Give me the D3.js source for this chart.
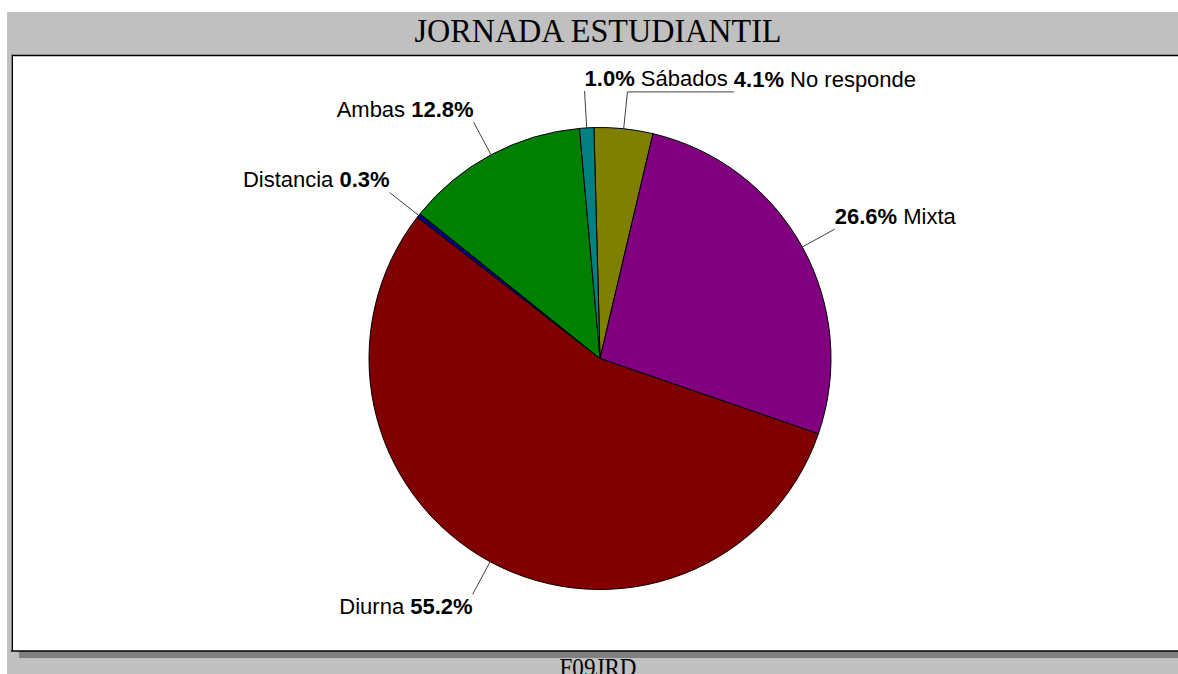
<!DOCTYPE html>
<html>
<head>
<meta charset="utf-8">
<script src="https://cdn.jsdelivr.net/npm/d3@7"></script>
<style>
  html, body { margin: 0; padding: 0; background: #ffffff; }
  svg { display: block; }
</style>
</head>
<body>
<svg id="chart" width="1178" height="674"></svg>
<script>
// ---- data ----
const title = "JORNADA ESTUDIANTIL";
const footer = "F09JRD";
const categories = ["No responde", "Mixta", "Diurna", "Distancia", "Ambas", "Sábados"];
const values = [4.1, 26.6, 55.2, 0.3, 12.8, 1.0];
const colors = ["#808000", "#800080", "#800000", "#000080", "#008000", "#008080"];

// ---- layout ----
const W = 1178, H = 674;
const cx = 600, cy = 358.5, R = 231;
const startDeg = -1.5;
const leaderLen = 37;

const svg = d3.select("#chart");

// background frame
svg.append("rect").attr("x", 7).attr("y", 12).attr("width", W - 7).attr("height", H - 12).attr("fill", "#c0c0c0");
// shadow
svg.append("rect").attr("x", 19).attr("y", 651).attr("width", W - 19).attr("height", 7).attr("fill", "#808080");
// plot box
svg.append("rect").attr("x", 11).attr("y", 55).attr("width", W).attr("height", 596).attr("fill", "#ffffff");
svg.append("line").attr("x1", 11).attr("x2", W).attr("y1", 55.5).attr("y2", 55.5).attr("stroke", "#000").attr("stroke-width", 1.5);
svg.append("line").attr("x1", 11.5).attr("x2", 11.5).attr("y1", 55).attr("y2", 651).attr("stroke", "#808080").attr("stroke-width", 1);
svg.append("line").attr("x1", 12.5).attr("x2", 12.5).attr("y1", 55).attr("y2", 651).attr("stroke", "#000").attr("stroke-width", 1);
svg.append("line").attr("x1", 11).attr("x2", W).attr("y1", 651).attr("y2", 651).attr("stroke", "#000").attr("stroke-width", 1.5);

// title and footer
svg.append("text").attr("x", 598).attr("y", 42).attr("text-anchor", "middle")
  .attr("font-family", "'Liberation Serif', 'Times New Roman', serif").attr("font-size", 33)
  .attr("textLength", 367).attr("lengthAdjust", "spacingAndGlyphs")
  .attr("fill", "#000").text(title);
svg.append("text").attr("x", 598).attr("y", 676).attr("text-anchor", "middle")
  .attr("font-family", "'Liberation Serif', 'Times New Roman', serif").attr("font-size", 25)
  .attr("textLength", 77).attr("lengthAdjust", "spacingAndGlyphs")
  .attr("fill", "#000").text(footer);

// pie
const data = categories.map((c, i) => ({ name: c, value: values[i], color: colors[i] }));
const a0 = startDeg * Math.PI / 180;
const pie = d3.pie().sort(null).value(d => d.value).startAngle(a0).endAngle(a0 + 2 * Math.PI);
const arcs = pie(data);
const arc = d3.arc().innerRadius(0).outerRadius(R);

const g = svg.append("g").attr("transform", `translate(${cx},${cy})`);
g.selectAll("path.slice").data(arcs).join("path")
  .attr("class", "slice")
  .attr("d", arc)
  .attr("fill", d => d.data.color)
  .attr("stroke", "#000")
  .attr("stroke-width", 1);

// labels
const fontFam = "'Liberation Sans', Arial, Helvetica, sans-serif";
const fs = 22;
const labels = arcs.map(d => {
  const m = (d.startAngle + d.endAngle) / 2;
  const sx = Math.sin(m), sy = -Math.cos(m);
  const edge = [sx * R, sy * R];
  const end = [sx * (R + leaderLen), sy * (R + leaderLen)];
  let deg = (m * 180 / Math.PI) % 360; if (deg < 0) deg += 360;
  const nearTop = deg > 345 || deg < 15;
  const right = sx >= 0 || nearTop;
  const upper = sy < 0;
  return { d, m, edge, end, right, upper,
           x: end[0], y: upper ? end[1] - 5 : end[1] + 20,
           pts: [edge, end] };
});

const lg = g.append("g");
function drawLabel(L) {
  const t = lg.append("text")
    .attr("x", L.x).attr("y", L.y)
    .attr("text-anchor", L.right ? "start" : "end")
    .attr("font-family", fontFam).attr("font-size", fs).attr("fill", "#000");
  const pct = L.d.data.value.toFixed(1) + "%";
  if (L.right) {
    t.append("tspan").attr("font-weight", "bold").text(pct);
    t.append("tspan").text(" " + L.d.data.name);
  } else {
    t.append("tspan").text(L.d.data.name + " ");
    t.append("tspan").attr("font-weight", "bold").text(pct);
  }
  L.node = t;
  return t;
}
labels.forEach(drawLabel);

// resolve overlaps between start-anchored labels: shift to the right with an elbow leader
function bbox(L) { return L.node.node().getBBox(); }
for (let i = 0; i < labels.length; i++) {
  for (let j = 0; j < labels.length; j++) {
    if (i === j) continue;
    const A = labels[i], B = labels[j];
    if (!A.right || !B.right) continue;
    if (A.end[0] <= B.end[0]) continue;
    const ba = bbox(A), bb = bbox(B);
    const overlap = ba.x < bb.x + bb.width && ba.x + ba.width > bb.x &&
                    ba.y < bb.y + bb.height && ba.y + ba.height > bb.y;
    if (overlap) {
      const space = fs * 0.278;
      const nx = bb.x + bb.width + space;
      A.x = nx;
      A.node.attr("x", nx);
      A.pts = [A.edge, A.end, [nx, A.end[1]]];
    }
  }
}

lg.selectAll("polyline").data(labels).join("polyline")
  .attr("points", L => L.pts.map(p => p.join(",")).join(" "))
  .attr("fill", "none")
  .attr("stroke", "#404040")
  .attr("stroke-width", 1);
</script>
</body>
</html>
